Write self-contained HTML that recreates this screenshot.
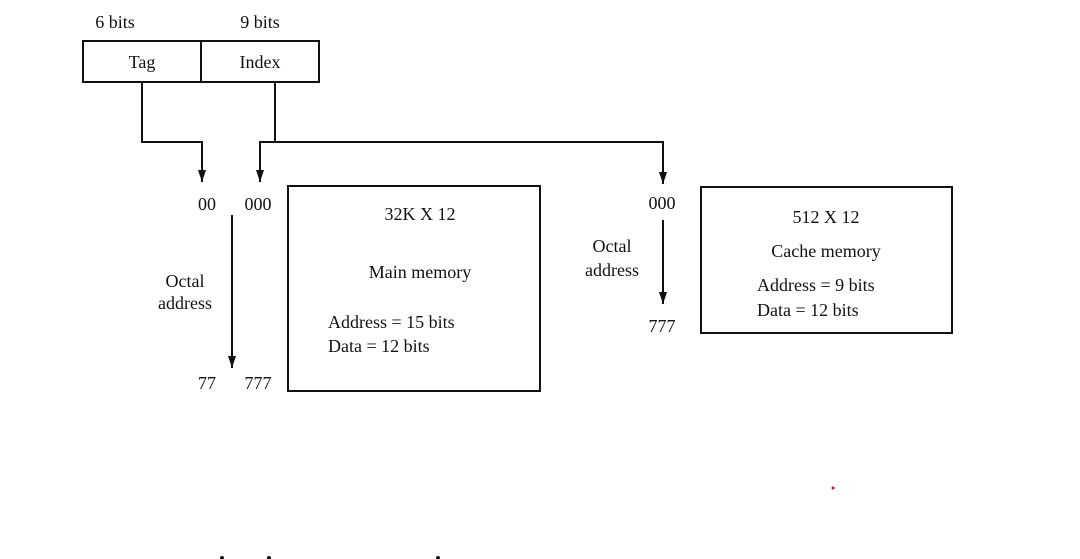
<!DOCTYPE html>
<html><head><meta charset="utf-8"><style>
html,body{margin:0;padding:0;background:#fff;}
svg{display:block;}
text{font-family:"Liberation Serif",serif;font-size:18px;fill:#111;}
</style></head><body>
<svg width="1080" height="559" viewBox="0 0 1080 559" xmlns="http://www.w3.org/2000/svg">
<defs><marker id="a" markerWidth="12" markerHeight="8" refX="12" refY="4" orient="auto-start-reverse" markerUnits="userSpaceOnUse"><path d="M0,0 L12,4 L0,8 Z" fill="#111"/></marker></defs>
<g stroke="#111" stroke-width="2" fill="none">
<rect x="83" y="41" width="236" height="41"/>
<line x1="201" y1="41" x2="201" y2="82"/>
<polyline points="142,82 142,142 202,142 202,182" marker-end="url(#a)"/>
<line x1="275" y1="82" x2="275" y2="142"/>
<polyline points="260,182 260,142 663,142 663,184" marker-start="url(#a)" marker-end="url(#a)"/>
<line x1="232" y1="215" x2="232" y2="368" marker-end="url(#a)"/>
<line x1="663" y1="220" x2="663" y2="304" marker-end="url(#a)"/>
<rect x="288" y="186" width="252" height="205"/>
<rect x="701" y="187" width="251" height="146"/>
</g>
<text x="115" y="28" text-anchor="middle">6 bits</text>
<text x="260" y="28" text-anchor="middle">9 bits</text>
<text x="142" y="68" text-anchor="middle">Tag</text>
<text x="260" y="68" text-anchor="middle">Index</text>
<text x="207" y="210" text-anchor="middle">00</text>
<text x="258" y="210" text-anchor="middle">000</text>
<text x="185" y="287" text-anchor="middle">Octal</text>
<text x="185" y="309" text-anchor="middle">address</text>
<text x="207" y="389" text-anchor="middle">77</text>
<text x="258" y="389" text-anchor="middle">777</text>
<text x="420" y="220" text-anchor="middle">32K X 12</text>
<text x="420" y="278" text-anchor="middle">Main memory</text>
<text x="328" y="328">Address = 15 bits</text>
<text x="328" y="352">Data = 12 bits</text>
<text x="662" y="209" text-anchor="middle">000</text>
<text x="612" y="252" text-anchor="middle">Octal</text>
<text x="612" y="276" text-anchor="middle">address</text>
<text x="662" y="332" text-anchor="middle">777</text>
<text x="826" y="223" text-anchor="middle">512 X 12</text>
<text x="826" y="257" text-anchor="middle">Cache memory</text>
<text x="757" y="291">Address = 9 bits</text>
<text x="757" y="316">Data = 12 bits</text>
<circle cx="833" cy="488" r="1.5" fill="#c03"/>
<circle cx="222" cy="558" r="2" fill="#111"/>
<circle cx="269" cy="558" r="2" fill="#111"/>
<circle cx="438" cy="558" r="2" fill="#111"/>
</svg>
</body></html>
